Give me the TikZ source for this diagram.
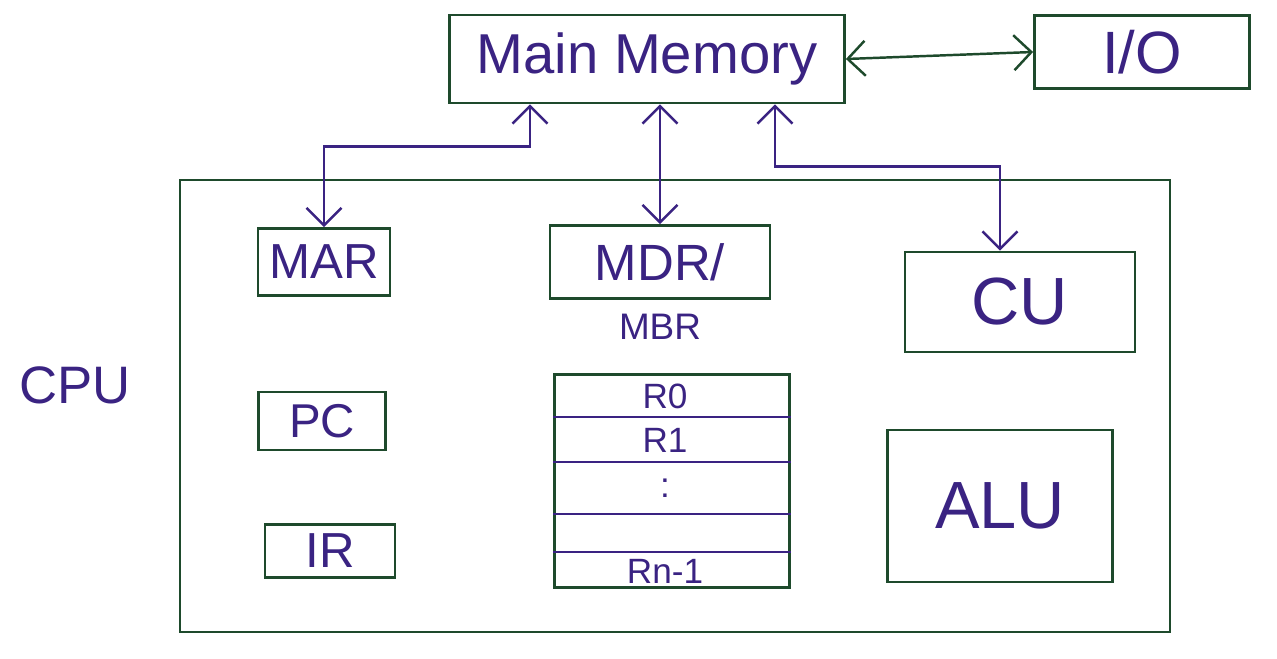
\documentclass[tikz,border=0pt]{standalone}
\usepackage{fontspec}
\setmainfont{Liberation Sans}
\usetikzlibrary{arrows.meta, positioning, calc}
\definecolor{boxgreen}{HTML}{1E4A2C}
\definecolor{ink}{HTML}{3A2382}
\tikzset{
  blk/.style 2 args={rectangle,draw=boxgreen,line width=1.6pt,text=ink,
    minimum width=#1,minimum height=#2,inner sep=0pt},
  lbl/.style={text=ink,font=\fontsize{#1}{#1}\selectfont},
  link/.style={{Straight Barb[length=3.5mm,width=7mm]}-{Straight Barb[length=3.5mm,width=7mm]},
    line width=1.4pt,draw=#1},
  link/.default=ink,
  regline/.style={draw=ink,line width=1.4pt},
}
\begin{document}
\begin{tikzpicture}[x=0.2mm,y=-0.2mm]
    \useasboundingbox (0,0) rectangle (1277,659);
    % memory and I/O
    \node[blk={79mm}{17.6mm},lbl=32] (mm) at (647,59) {Main Memory};
    \node[blk={43mm}{14.6mm},lbl=34] (io) at (1142,52) {I/O};
    % processor
    \node[blk={198mm}{90.4mm}] (cpu) at (675,406) {};
    \node[lbl=30] (cpulbl) at (75,385) {CPU};
    \node[blk={26.4mm}{13.4mm},lbl=28] (mar) at (324,262) {MAR};
    \node[blk={44mm}{14.6mm},lbl=29] (mdr) at (660,262) {MDR/};
    \node[lbl=21,below=1.5mm of mdr] (mbr) {MBR};
    \node[blk={46mm}{20mm},lbl=38] (cu) at (1020,302) {CU};
    \node[blk={25.4mm}{11.6mm},lbl=27] (pc) at (322,421) {PC};
    \node[blk={26mm}{10.6mm},lbl=28] (ir) at (330,551) {IR};
    \node[blk={45mm}{30.4mm},lbl=38] (alu) at (1000,506) {ALU};
    % register file
    \node[blk={47mm}{42.6mm}] (regs) at (672,481) {};
    \foreach \y in {417,462,514,552}
      \draw[regline] (regs.west |- 0,\y) -- (regs.east |- 0,\y);
    \foreach \name/\y/\txt in {r0/396/R0, r1/440/R1, rd/488/:, rn/571/Rn-1}
      \node[lbl=20] (\name) at (665,\y) {\txt};
    % buses
    \path (mm.south) ++(-117,0) coordinate (mmA) ++(0,42) coordinate (mmAk);
    \path (mm.south) ++(128,0) coordinate (mmB) ++(0,62) coordinate (mmBk);
    \draw[link] (mar.north) |- (mmAk) -- (mmA);
    \draw[link] (mdr.north) -- (mdr.north |- mm.south);
    \draw[link] (mmB) -- (mmBk) -| ([xshift=-4mm]cu.north);
    \draw[link=boxgreen] (mm.east) -- (io.west);
  \end{tikzpicture}
\end{document}
